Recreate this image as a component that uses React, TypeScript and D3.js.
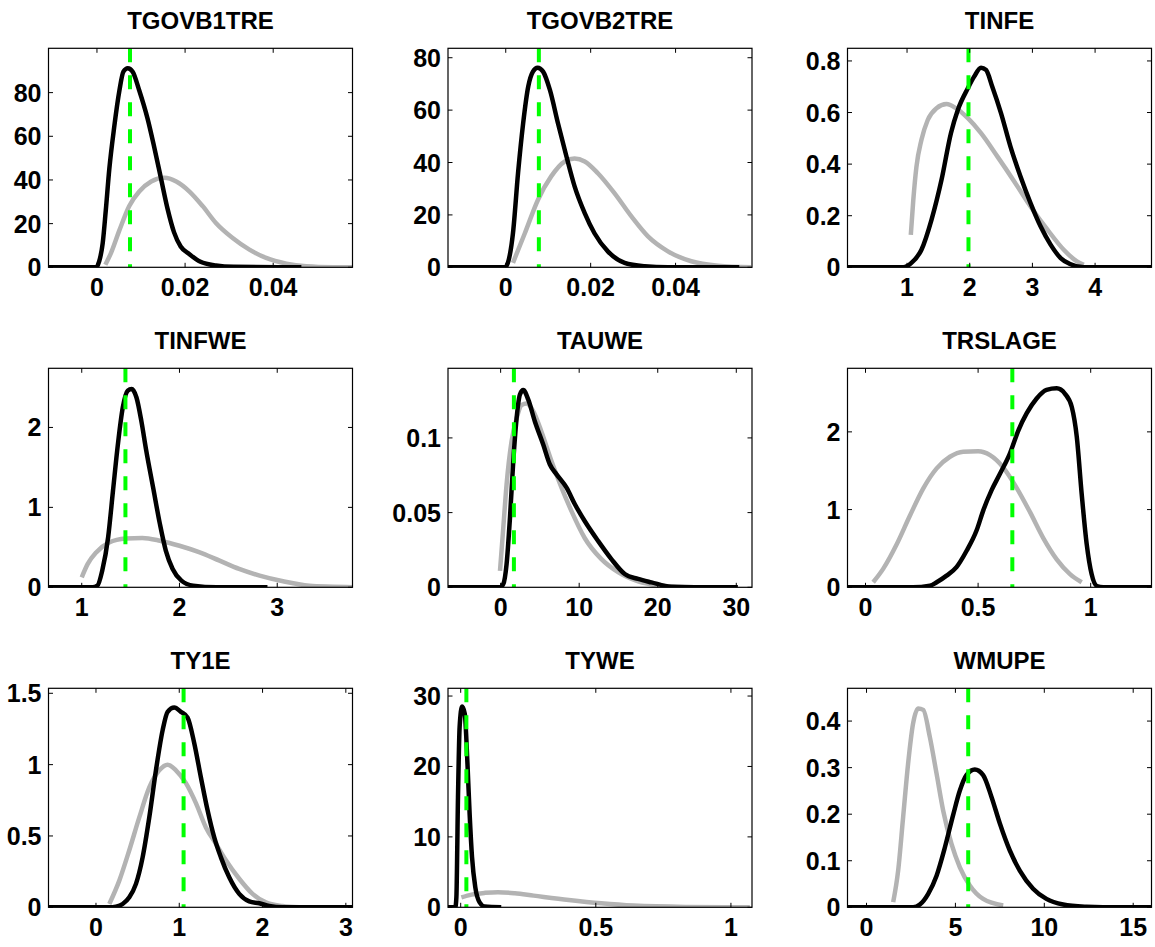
import React from 'react';
import * as d3 from 'd3';

// panel titles, axis limits and ticks (row by row)
const titles = ['TGOVB1TRE', 'TGOVB2TRE', 'TINFE', 'TINFWE', 'TAUWE', 'TRSLAGE', 'TY1E', 'TYWE', 'WMUPE'];
const xLimits = [
  [-0.011, 0.058], [-0.0136, 0.058], [0.05, 4.9],
  [0.66, 3.77], [-6.7, 32], [-0.08, 1.27],
  [-0.57, 3.08], [-0.047, 1.078], [-1.07, 16.03],
];
const yLimits = [
  [0, 100.3], [0, 83.6], [0, 0.849],
  [0, 2.74], [0, 0.1466], [0, 2.818],
  [0, 1.535], [0, 31.1], [0, 0.4704],
];
const xTicks = [
  [0, 0.02, 0.04], [0, 0.02, 0.04], [1, 2, 3, 4],
  [1, 2, 3], [0, 10, 20, 30], [0, 0.5, 1],
  [0, 1, 2, 3], [0, 0.5, 1], [0, 5, 10, 15],
];
const yTicks = [
  [0, 20, 40, 60, 80], [0, 20, 40, 60, 80], [0, 0.2, 0.4, 0.6, 0.8],
  [0, 1, 2], [0, 0.05, 0.1], [0, 1, 2],
  [0, 0.5, 1, 1.5], [0, 10, 20, 30], [0, 0.1, 0.2, 0.3, 0.4],
];
// posterior mode (green dashed line)
const modes = [0.0075, 0.0078, 1.98, 1.447, 1.69, 0.652, 1.052, 0.021, 5.72];

// prior (grey) and posterior (black) densities
const tgovb1trePrior = [[0.0019, 1.2], [0.0032, 6.6], [0.0051, 17], [0.0073, 28], [0.0096, 34.7], [0.0123, 39.3], [0.0153, 41], [0.018, 39.3], [0.021, 34.7], [0.024, 28], [0.027, 20.3], [0.0308, 13.4], [0.0346, 8.1], [0.0384, 4.3], [0.043, 1.7], [0.0475, 0.5], [0.0536, 0.05], [0.058, 0]];
const tgovb1trePost = [[-0.011, 0], [-0.0002, 0], [0.0005, 2.7], [0.0013, 11], [0.002, 26], [0.0028, 45], [0.0039, 64], [0.0051, 81], [0.006, 89.6], [0.007, 91.2], [0.0081, 89.6], [0.0096, 81], [0.0115, 68], [0.013, 55], [0.0145, 41], [0.016, 27], [0.0175, 16], [0.019, 9.5], [0.021, 6], [0.0235, 2.5], [0.027, 0.8], [0.031, 0.2], [0.0464, 0]];

const tgovb2trePrior = [[0.0017, 1.7], [0.0045, 13], [0.0076, 25.8], [0.0107, 34.7], [0.0139, 40.4], [0.0162, 41.5], [0.0186, 40.4], [0.0217, 35.9], [0.0256, 28.3], [0.0296, 19.4], [0.0335, 11.8], [0.0382, 6.1], [0.0437, 2.3], [0.05, 0.6], [0.0578, 0]];
const tgovb2trePost = [[-0.0136, 0], [-0.0002, 0], [0.0005, 1.7], [0.0017, 13], [0.0029, 36], [0.0041, 55], [0.0053, 69], [0.0064, 74.7], [0.0075, 76.2], [0.0088, 74.7], [0.0104, 67.7], [0.0123, 55], [0.0143, 42.3], [0.0162, 31], [0.0186, 20.7], [0.0209, 13], [0.0241, 6], [0.028, 1.7], [0.0327, 0.4], [0.0382, 0], [0.055, 0]];

const tinfePrior = [[1.06, 0.126], [1.1, 0.262], [1.15, 0.39], [1.23, 0.494], [1.33, 0.571], [1.47, 0.617], [1.63, 0.633], [1.78, 0.617], [1.97, 0.578], [2.18, 0.52], [2.44, 0.43], [2.71, 0.333], [2.97, 0.236], [3.24, 0.146], [3.5, 0.068], [3.71, 0.023], [3.82, 0.01]];
const tinfePost = [[0.05, 0], [0.94, 0], [1.07, 0.017], [1.23, 0.068], [1.39, 0.184], [1.55, 0.339], [1.7, 0.52], [1.81, 0.61], [1.97, 0.694], [2.07, 0.739], [2.18, 0.774], [2.26, 0.765], [2.36, 0.7], [2.5, 0.597], [2.65, 0.468], [2.81, 0.352], [2.97, 0.249], [3.13, 0.159], [3.29, 0.088], [3.45, 0.036], [3.6, 0.013], [3.82, 0], [4.9, 0]];

const tinfwePrior = [[1.0, 0.125], [1.06, 0.29], [1.15, 0.44], [1.28, 0.56], [1.45, 0.61], [1.62, 0.617], [1.8, 0.583], [2.0, 0.52], [2.2, 0.44], [2.41, 0.333], [2.61, 0.23], [2.82, 0.146], [3.06, 0.075], [3.33, 0.02], [3.57, 0.008], [3.77, 0]];
const tinfwePost = [[0.66, 0], [1.11, 0], [1.16, 0.02], [1.21, 0.21], [1.27, 0.625], [1.32, 1.21], [1.37, 1.79], [1.42, 2.25], [1.47, 2.46], [1.51, 2.48], [1.56, 2.375], [1.61, 2.08], [1.66, 1.71], [1.73, 1.25], [1.8, 0.79], [1.86, 0.46], [1.93, 0.23], [2.02, 0.083], [2.14, 0.02], [2.38, 0], [2.9, 0]];

const tauwePrior = [[-0.08, 0.011], [0.34, 0.04], [0.76, 0.069], [1.4, 0.098], [2.03, 0.113], [2.67, 0.122], [3.3, 0.123], [4.15, 0.118], [5.21, 0.104], [6.48, 0.0844], [7.75, 0.0667], [9.02, 0.051], [10.7, 0.033], [12.8, 0.019], [15.0, 0.01], [17.5, 0.004], [20.5, 0.001], [23.4, 0]];
const tauwePost = [[-6.7, 0], [-0.1, 0], [0.34, 0.0022], [0.76, 0.0156], [1.19, 0.0467], [1.61, 0.0844], [2.03, 0.113], [2.46, 0.129], [2.88, 0.132], [3.52, 0.1256], [4.36, 0.111], [5.42, 0.0956], [6.27, 0.0822], [7.12, 0.0756], [8.39, 0.0667], [9.45, 0.0556], [10.7, 0.0444], [12.4, 0.0311], [14.1, 0.0189], [15.8, 0.0089], [17.5, 0.0056], [19.2, 0.0033], [21.7, 0.0004], [27.7, 0], [30.2, 0]];

const trslagePrior = [[0.034, 0.065], [0.079, 0.24], [0.138, 0.55], [0.197, 0.92], [0.256, 1.27], [0.316, 1.53], [0.375, 1.68], [0.434, 1.745], [0.5, 1.75], [0.553, 1.7], [0.612, 1.54], [0.671, 1.28], [0.73, 0.97], [0.79, 0.63], [0.849, 0.36], [0.908, 0.17], [0.96, 0.065]];
const trslagePost = [[-0.08, 0], [0.21, 0], [0.286, 0.02], [0.316, 0.065], [0.36, 0.15], [0.404, 0.26], [0.449, 0.47], [0.493, 0.73], [0.523, 0.99], [0.56, 1.25], [0.597, 1.46], [0.641, 1.72], [0.679, 2.02], [0.716, 2.24], [0.76, 2.43], [0.804, 2.54], [0.849, 2.56], [0.886, 2.49], [0.916, 2.32], [0.938, 1.94], [0.96, 1.2], [0.982, 0.56], [1.004, 0.17], [1.027, 0.017], [1.056, 0], [1.27, 0]];

const ty1ePrior = [[0.16, 0.023], [0.28, 0.187], [0.4, 0.4], [0.52, 0.63], [0.64, 0.84], [0.76, 0.96], [0.86, 1.0], [0.96, 0.96], [1.08, 0.87], [1.2, 0.73], [1.32, 0.56], [1.44, 0.445], [1.56, 0.33], [1.72, 0.2], [1.88, 0.094], [2.04, 0.035], [2.24, 0.009], [2.44, 0]];
const ty1ePost = [[-0.57, 0], [0.16, 0], [0.24, 0.005], [0.32, 0.023], [0.4, 0.07], [0.48, 0.164], [0.56, 0.35], [0.64, 0.63], [0.72, 0.96], [0.8, 1.24], [0.86, 1.37], [0.94, 1.4], [1.02, 1.37], [1.1, 1.33], [1.18, 1.15], [1.26, 0.91], [1.34, 0.68], [1.42, 0.49], [1.5, 0.35], [1.6, 0.21], [1.72, 0.094], [1.84, 0.042], [1.96, 0.028], [2.08, 0.009], [2.24, 0], [3.08, 0]];

const tywePrior = [[0.0025, 1.4], [0.04, 1.8], [0.09, 2.05], [0.138, 2.15], [0.2, 2.0], [0.27, 1.66], [0.4, 1.04], [0.52, 0.57], [0.64, 0.24], [0.83, 0.05], [1.07, 0]];
const tywePost = [[-0.047, 0], [-0.02, 0], [-0.016, 1.4], [-0.01, 15.7], [-0.004, 25.6], [0.005, 28.5], [0.015, 27.5], [0.025, 20.4], [0.033, 13.3], [0.042, 7.1], [0.054, 2.85], [0.07, 0.7], [0.089, 0.1], [0.15, 0]];

const wmupePrior = [[1.5, 0.011], [1.78, 0.079], [2.06, 0.194], [2.34, 0.309], [2.62, 0.395], [2.91, 0.427], [3.19, 0.424], [3.56, 0.366], [3.94, 0.287], [4.31, 0.208], [4.78, 0.136], [5.25, 0.086], [5.81, 0.047], [6.56, 0.018], [7.69, 0.004]];
const wmupePost = [[-1.07, 0], [2.62, 0], [3.0, 0.006], [3.47, 0.029], [3.94, 0.068], [4.41, 0.129], [4.87, 0.198], [5.25, 0.251], [5.62, 0.284], [6.09, 0.296], [6.56, 0.284], [7.03, 0.237], [7.5, 0.18], [8.06, 0.122], [8.62, 0.079], [9.37, 0.04], [10.12, 0.018], [11.06, 0.006], [12.37, 0.001], [13.3, 0], [16.0, 0]];

const priors = [tgovb1trePrior, tgovb2trePrior, tinfePrior, tinfwePrior, tauwePrior, trslagePrior, ty1ePrior, tywePrior, wmupePrior];
const posteriors = [tgovb1trePost, tgovb2trePost, tinfePost, tinfwePost, tauwePost, trslagePost, ty1ePost, tywePost, wmupePost];

const width = 1155;
const height = 947;
const colLeft = [48.5, 448, 847.5];
const rowTop = [48.3, 368.3, 688.3];
const axW = 304;
const axH = 219;
const tickLen = 4.5;
const font = '"Liberation Sans", Arial, Helvetica, sans-serif';

const Panel = ({ i }) => {
  const left = colLeft[i % 3];
  const top = rowTop[Math.floor(i / 3)];
  const x = d3.scaleLinear().domain(xLimits[i]).range([left, left + axW]);
  const y = d3.scaleLinear().domain(yLimits[i]).range([top + axH, top]);
  const line = d3.line().x(d => x(d[0])).y(d => y(d[1])).curve(d3.curveMonotoneX);
  const clipId = `clip-${i}`;
  const bottom = top + axH;
  const right = left + axW;

  return (
    <g>
      <clipPath id={clipId}>
        <rect x={left} y={top} width={axW} height={axH} />
      </clipPath>
      <text x={left + axW / 2} y={top - 19} textAnchor="middle" fontSize={24} fontWeight="bold" fontFamily={font}>
        {titles[i]}
      </text>
      <g clipPath={`url(#${clipId})`}>
        <path d={line(priors[i])} fill="none" stroke="#b3b3b3" strokeWidth={4.5} strokeLinejoin="round" />
        <path d={line(posteriors[i])} fill="none" stroke="#000" strokeWidth={4.5} strokeLinejoin="round" />
        <line x1={x(modes[i])} x2={x(modes[i])} y1={top} y2={bottom} stroke="#00ff00" strokeWidth={4} strokeDasharray="14 13" />
      </g>
      <rect x={left} y={top} width={axW} height={axH} fill="none" stroke="#000" strokeWidth={1.2} />
      {xTicks[i].map(t => (
        <g key={`x${t}`}>
          <line x1={x(t)} x2={x(t)} y1={bottom} y2={bottom - tickLen} stroke="#000" strokeWidth={1} />
          <line x1={x(t)} x2={x(t)} y1={top} y2={top + tickLen} stroke="#000" strokeWidth={1} />
          <text x={x(t)} y={bottom + 29} textAnchor="middle" fontSize={25} fontWeight="bold" fontFamily={font}>
            {String(t)}
          </text>
        </g>
      ))}
      {yTicks[i].map(t => (
        <g key={`y${t}`}>
          <line x1={left} x2={left + tickLen} y1={y(t)} y2={y(t)} stroke="#000" strokeWidth={1} />
          <line x1={right} x2={right - tickLen} y1={y(t)} y2={y(t)} stroke="#000" strokeWidth={1} />
          <text x={left - 7} y={y(t)} dy="0.36em" textAnchor="end" fontSize={25} fontWeight="bold" fontFamily={font}>
            {String(t)}
          </text>
        </g>
      ))}
    </g>
  );
};

const App = () => {
  return (
    <svg
      width={width}
      height={height}
      style={{ position: 'absolute', left: 0, top: 0, background: '#fff' }}
    >
      {titles.map((t, i) => <Panel key={t} i={i} />)}
    </svg>
  );
};

export default App;
